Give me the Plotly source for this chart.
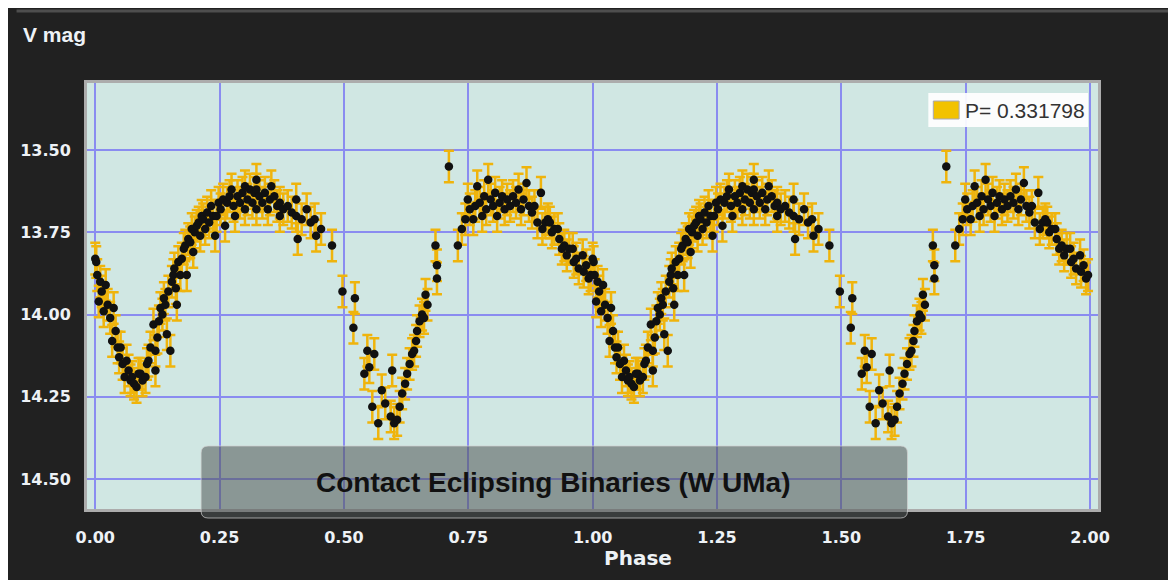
"""Phased light curve of a W UMa contact binary, plotly."""
import plotly.graph_objects as go

# one cycle of phased V photometry, shown twice (phase 0-1 and 1-2)
phase = [
    0.000, 0.002, 0.004, 0.007, 0.010, 0.013, 0.017, 0.021, 0.025, 0.030,
    0.034, 0.037, 0.041, 0.045, 0.048, 0.051, 0.055, 0.059, 0.063, 0.067,
    0.071, 0.074, 0.078, 0.083, 0.087, 0.091, 0.095, 0.101, 0.104, 0.107,
    0.111, 0.117, 0.121, 0.121, 0.125, 0.128, 0.131, 0.135, 0.138, 0.141,
    0.144, 0.147, 0.151, 0.154, 0.157, 0.159, 0.162, 0.164, 0.167, 0.171,
    0.174, 0.178, 0.181, 0.184, 0.187, 0.191, 0.194, 0.197, 0.200, 0.204,
    0.208, 0.211, 0.214, 0.217, 0.221, 0.225, 0.229, 0.233, 0.237, 0.241,
    0.244, 0.248, 0.252, 0.257, 0.261, 0.265, 0.270, 0.274, 0.278, 0.281,
    0.286, 0.291, 0.296, 0.301, 0.301, 0.306, 0.311, 0.316, 0.320, 0.324,
    0.324, 0.324, 0.330, 0.336, 0.341, 0.347, 0.351, 0.354, 0.360, 0.366,
    0.371, 0.371, 0.378, 0.387, 0.395, 0.404, 0.404, 0.407, 0.415, 0.425,
    0.433, 0.441, 0.444, 0.454, 0.476,
    0.497, 0.519, 0.522, 0.541, 0.547, 0.551, 0.557, 0.561, 0.569, 0.576,
    0.583, 0.594, 0.597, 0.601, 0.607, 0.612, 0.617, 0.623, 0.627, 0.632,
    0.637, 0.641, 0.645, 0.647, 0.652, 0.657, 0.661, 0.664, 0.668, 0.684,
    0.687, 0.687, 0.711, 0.729, 0.737, 0.744, 0.749, 0.753, 0.760, 0.764,
    0.768, 0.773, 0.778, 0.782, 0.786, 0.790, 0.795, 0.800, 0.804, 0.808,
    0.813, 0.818, 0.823, 0.828, 0.834, 0.840, 0.846, 0.851, 0.856, 0.861,
    0.867, 0.872, 0.878, 0.883, 0.889, 0.896, 0.899, 0.905, 0.910, 0.914,
    0.918, 0.923, 0.930, 0.933, 0.938, 0.943, 0.948, 0.953, 0.960, 0.962,
    0.967, 0.972, 0.980, 0.982, 0.987, 0.992, 0.996,
]
vmag = [
    13.83, 13.84, 13.88, 13.96, 13.90, 13.93, 13.99, 13.91, 13.97, 14.01,
    14.08, 13.98, 14.05, 14.10, 14.13, 14.10, 14.15, 14.19, 14.14, 14.17,
    14.20, 14.19, 14.21, 14.22, 14.18, 14.18, 14.20, 14.19, 14.15, 14.14,
    14.10, 14.03, 14.11, 14.17, 14.07, 14.02, 13.98, 14.00, 13.95, 13.97,
    14.06, 13.93, 14.11, 13.90, 13.88, 13.86, 13.92, 13.97, 13.84, 13.88,
    13.83, 13.80, 13.79, 13.88, 13.77, 13.78, 13.74, 13.81, 13.75, 13.73,
    13.72, 13.76, 13.70, 13.71, 13.74, 13.69, 13.72, 13.67, 13.70, 13.76,
    13.70, 13.66, 13.68, 13.65, 13.73, 13.66, 13.64, 13.62, 13.67, 13.70,
    13.64, 13.66, 13.63, 13.61, 13.68, 13.65, 13.62, 13.66, 13.63, 13.59,
    13.62, 13.68, 13.64, 13.66, 13.63, 13.68, 13.65, 13.61, 13.64, 13.67,
    13.70, 13.66, 13.68, 13.67, 13.69, 13.65, 13.70, 13.77, 13.71, 13.68,
    13.72, 13.71, 13.76, 13.74, 13.79,
    13.93, 14.04, 13.95, 14.18, 14.11, 14.16, 14.28, 14.12, 14.33, 14.23,
    14.27, 14.31, 14.17, 14.33, 14.32, 14.28, 14.24, 14.21, 14.18, 14.15,
    14.12, 14.11, 14.08, 14.05, 14.02, 14.00, 14.01, 13.94, 13.97, 13.79,
    13.89, 13.85, 13.55, 13.79, 13.74, 13.71, 13.65, 13.68, 13.71, 13.67,
    13.61, 13.66, 13.70, 13.64, 13.68, 13.59, 13.65, 13.67, 13.63, 13.70,
    13.66, 13.64, 13.68, 13.65, 13.67, 13.64, 13.66, 13.62, 13.68, 13.65,
    13.60, 13.67, 13.69, 13.67, 13.72, 13.63, 13.74, 13.72, 13.71, 13.72,
    13.75, 13.74, 13.74, 13.77, 13.80, 13.79, 13.82, 13.80, 13.80, 13.84,
    13.83, 13.86, 13.82, 13.87, 13.85, 13.89, 13.88,
]
period = "0.331798"
x_ticks = [0.0, 0.25, 0.5, 0.75, 1.0, 1.25, 1.5, 1.75, 2.0]
y_ticks = [13.50, 13.75, 14.00, 14.25, 14.50]

# page has an 8px body margin, figure sits inside it
W, H = 1168, 572
PW, PH = 1019, 426
L, T = 71, 75
R, B = W - L - PW, H - T - PH
OFF = 8


# screen pixel -> paper coordinate
def px(x):
    return (x - OFF - L) / PW


def py(y):
    return (H - B - (y - OFF)) / PH


BG = "#212121"
GOLD = "#efb40c"
TXT = "#eef2f6"
SANS = "Liberation Sans, Arial"

x_all = phase + [p + 1 for p in phase]
y_all = vmag + vmag

fig = go.Figure()
fig.add_trace(go.Scatter(
    x=x_all, y=y_all, mode="markers",
    marker=dict(color="#111111", size=8.5),
    error_y=dict(type="constant", value=0.048, color=GOLD, thickness=2.5, width=5),
    showlegend=False, hoverinfo="x+y",
))

tf = dict(family="DejaVu Sans", size=16, color=TXT, weight="bold")
fig.update_layout(
    width=W, height=H, autosize=False,
    margin=dict(l=L, r=R, t=T, b=B),
    paper_bgcolor=BG, plot_bgcolor="#d0e7e3",
    xaxis=dict(
        range=[-0.0166, 2.016], tickvals=x_ticks, tickformat=".2f",
        tickfont=tf, ticklabelstandoff=12,
        gridcolor="#8a8cf0", gridwidth=1.5, zeroline=False,
        showline=True, linecolor="#acacac", linewidth=3, mirror=True,
    ),
    yaxis=dict(
        range=[14.591, 13.296], tickvals=y_ticks, tickformat=".2f",
        tickfont=tf, ticklabelstandoff=10,
        gridcolor="#8a8cf0", gridwidth=1.5, zeroline=False,
        showline=True, linecolor="#acacac", linewidth=3, mirror=True,
    ),
    showlegend=False,
)

# grey edge lines of the panel
fig.add_shape(type="line", xref="paper", yref="paper", layer="below",
              x0=px(8), x1=px(1171), y0=py(11), y1=py(11),
              line=dict(color="#4e4e4e", width=3))
fig.add_shape(type="line", xref="paper", yref="paper", layer="below",
              x0=px(1170), x1=px(1170), y0=py(11), y1=py(580),
              line=dict(color="#555555", width=3))

# legend box
fig.add_shape(type="rect", xref="paper", yref="paper", layer="above",
              x0=px(927), x1=px(1088), y0=py(127), y1=py(93),
              fillcolor="rgba(255,255,255,0.92)", line_width=0)
fig.add_shape(type="rect", xref="paper", yref="paper", layer="above",
              x0=px(932), x1=px(958), y0=py(119), y1=py(101),
              fillcolor="#f2c200", line=dict(color="#a8a8b8", width=1))
fig.add_annotation(
    text=f"P= {period}", xref="paper", yref="paper",
    x=px(962), y=py(110), xanchor="left", yanchor="middle", showarrow=False,
    font=dict(family=SANS, size=21, color="#333333"),
)

# rounded caption box
x0, x1, y0, y1 = px(194), px(906), py(518), py(446)
rx, ry = 7 / PW, 7 / PH
path = (f"M {x0+rx},{y0} L {x1-rx},{y0} Q {x1},{y0} {x1},{y0+ry} "
        f"L {x1},{y1-ry} Q {x1},{y1} {x1-rx},{y1} L {x0+rx},{y1} "
        f"Q {x0},{y1} {x0},{y1-ry} L {x0},{y0+ry} Q {x0},{y0} {x0+rx},{y0} Z")
fig.add_shape(type="path", path=path, xref="paper", yref="paper", layer="above",
              fillcolor="rgba(80,86,86,0.55)",
              line=dict(color="rgba(210,210,210,0.7)", width=1))

fig.add_annotation(
    text="Contact Eclipsing Binaries (W UMa)", xref="paper", yref="paper",
    x=px(549), y=py(482), xanchor="center", yanchor="middle", showarrow=False,
    font=dict(family=SANS, size=28, color="#111111", weight="bold"),
)
fig.add_annotation(
    text="<b>V mag</b>", xref="paper", yref="paper",
    x=px(12), y=py(35), xanchor="left", yanchor="middle", showarrow=False,
    font=dict(family=SANS, size=21, color=TXT),
)
fig.add_annotation(
    text="Phase", xref="paper", yref="paper",
    x=px(634), y=py(558), xanchor="center", yanchor="middle", showarrow=False,
    font=dict(family="DejaVu Sans", size=20, color=TXT, weight="bold"),
)

fig.write_html("out.html")
